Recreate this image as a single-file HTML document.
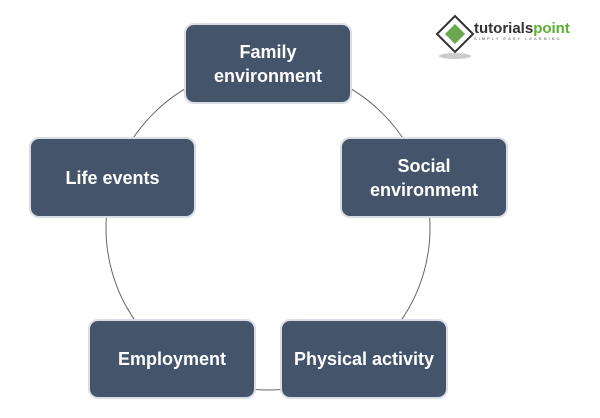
<!DOCTYPE html>
<html><head><style>
body{margin:0;width:600px;height:418px;background:#fff;position:relative;overflow:hidden;font-family:"Liberation Sans",sans-serif}
.b{position:absolute;box-sizing:border-box;background:#44546a;border:2px solid #d9dee6;border-radius:10px;color:#fff;font-weight:bold;font-size:18px;display:flex;align-items:center;justify-content:center;text-align:center;line-height:24px}
</style></head><body>
<svg width="600" height="418" style="position:absolute;left:0;top:0"><circle cx="268" cy="228" r="162" fill="none" stroke="#666" stroke-width="1"/>
<g transform="translate(437,16)"><polygon points="18,0 36,18 18,36 0,18" fill="#fff" stroke="#333" stroke-width="2"/><polygon points="18,8 28,18 18,28 8,18" fill="#6aa84f"/><ellipse cx="18" cy="40" rx="16" ry="3" fill="#ccc"/></g>
<text x="474" y="33" font-family="Liberation Sans" font-weight="bold" font-size="15" fill="#333">tutorials<tspan fill="#5cb030">point</tspan></text>
<text x="474" y="40" font-family="Liberation Sans" font-size="4" letter-spacing="2" fill="#555">SIMPLY EASY LEARNING</text>
</svg>
<div class="b" style="left:184px;top:23px;width:168px;height:81px">Family<br>environment</div>
<div class="b" style="left:340px;top:137px;width:168px;height:81px">Social<br>environment</div>
<div class="b" style="left:29px;top:137px;width:167px;height:81px">Life events</div>
<div class="b" style="left:88px;top:319px;width:168px;height:80px">Employment</div>
<div class="b" style="left:280px;top:319px;width:168px;height:80px">Physical activity</div>
</body></html>
